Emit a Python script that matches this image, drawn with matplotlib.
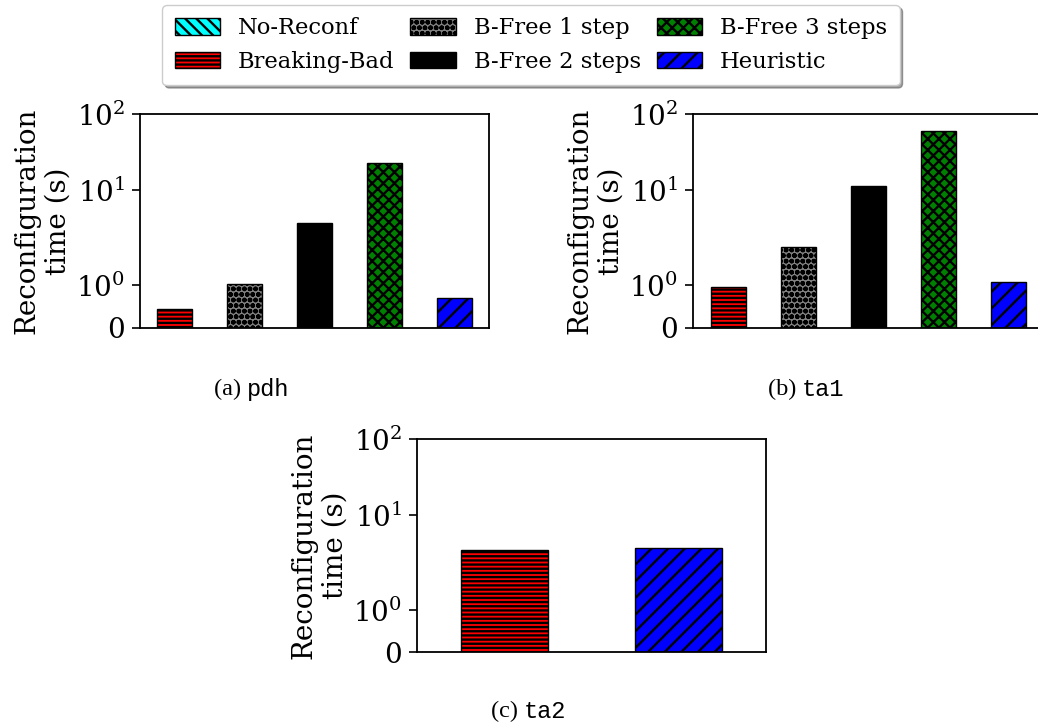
import matplotlib
matplotlib.use("Agg")
import matplotlib.pyplot as plt
from matplotlib.patches import Patch
from matplotlib.ticker import FixedLocator, NullLocator

plt.rcParams['font.family'] = ['DejaVu Serif']
plt.rcParams['mathtext.fontset'] = 'dejavuserif'
plt.rcParams['hatch.linewidth'] = 1.7

# ---- data ----
methods = ["No-Reconf", "Breaking-Bad", "B-Free 1 step", "B-Free 2 steps", "B-Free 3 steps", "Heuristic"]
colors = ["cyan", "red", "gray", "black", "green", "blue"]
hatches = ["\\\\\\", "----", "ooo", "", "xxx", "//"]

pdh_methods = ["Breaking-Bad", "B-Free 1 step", "B-Free 2 steps", "B-Free 3 steps", "Heuristic"]
pdh_times = [0.44, 1.04, 3.67, 23.0, 0.71]

ta1_methods = ["Breaking-Bad", "B-Free 1 step", "B-Free 2 steps", "B-Free 3 steps", "Heuristic"]
ta1_times = [0.97, 1.92, 11.2, 60.0, 1.08]

ta2_methods = ["Breaking-Bad", "Heuristic"]
ta2_times = [3.44, 3.66]

yticks = [0, 1, 10, 100]
ytick_labels = ["$0$", "$10^0$", "$10^1$", "$10^2$"]

W, H = 1038, 724
fig = plt.figure(figsize=(W / 100, H / 100), dpi=100)


def px_axes(left, right, top, bottom):
    return fig.add_axes([left / W, (H - bottom) / H, (right - left) / W, (bottom - top) / H])


def draw(ax, names, vals):
    xs = list(range(len(names)))
    for x, n, v in zip(xs, names, vals):
        i = methods.index(n)
        ax.bar(x, v, width=0.5, color=colors[i], hatch=hatches[i],
               edgecolor="black", linewidth=1.0)
    ax.set_yscale("symlog", linthresh=2, linscale=1)
    ax.set_ylim(0, 100)
    ax.set_xlim(-0.5, len(names) - 0.5)
    ax.yaxis.set_major_locator(FixedLocator(yticks))
    ax.set_yticklabels(ytick_labels)
    ax.yaxis.set_minor_locator(NullLocator())
    ax.set_xticks([])
    ax.tick_params(axis="y", labelsize=20, length=6, width=1.2, direction="out", pad=5)
    for s in ax.spines.values():
        s.set_linewidth(1.3)
        s.set_color("black")
    ax.set_ylabel("Reconfiguration\ntime (s)", fontsize=20, labelpad=3)


ax_a = px_axes(140, 489, 114, 327.7)
draw(ax_a, pdh_methods, pdh_times)
ax_b = px_axes(693, 1043, 114, 327.7)
draw(ax_b, ta1_methods, ta1_times)
ax_c = px_axes(417, 766, 439, 652.3)
draw(ax_c, ta2_methods, ta2_times)

# captions
def caption(xc, y, tag, name):
    fig.text(xc / W, 1 - y / H, tag + " ", ha="right", va="center",
             fontsize=17.5, family="Liberation Serif")
    fig.text(xc / W, 1 - y / H, name, ha="left", va="center",
             fontsize=17, family=["Liberation Mono", "DejaVu Sans Mono"])

caption(247, 389, "(a)", "pdh")
caption(802, 389, "(b)", "ta1")
caption(524, 711, "(c)", "ta2")

handles = [Patch(facecolor=c, hatch=h, edgecolor="black", linewidth=1.0)
           for c, h in zip(colors, hatches)]
leg = fig.legend(handles, methods, ncol=3, loc="upper center",
                 bbox_to_anchor=(531 / W, 1 - 5 / H), fontsize=16.3,
                 frameon=True, fancybox=True, shadow=True, borderaxespad=0,
                 handlelength=2.0, handleheight=0.75, handletextpad=0.8,
                 columnspacing=0.7, labelspacing=0.5, borderpad=0.55)
leg.get_frame().set_edgecolor("0.8")

fig.savefig("out.png", dpi=100)
